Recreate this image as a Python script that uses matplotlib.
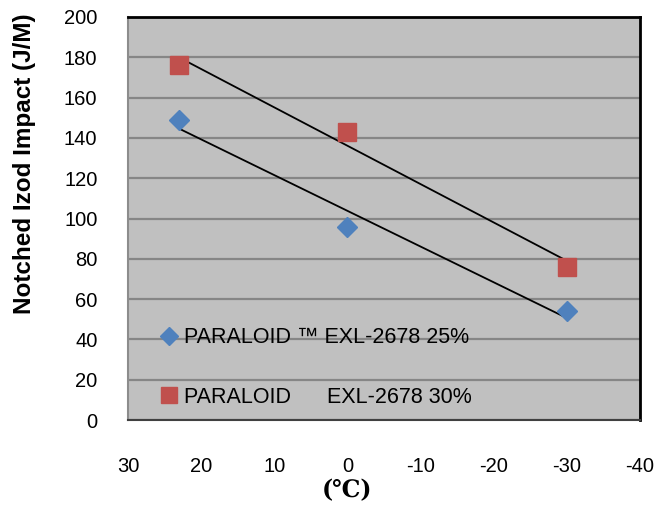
import numpy as np
import matplotlib
matplotlib.use("Agg")
import matplotlib.pyplot as plt

# Data
temps = [23, 0, -30]
impact_25 = [149, 96, 54]
impact_30 = [176, 143, 76]
label_25 = "PARALOID \u2122 EXL-2678 25%"
label_30 = "PARALOID      EXL-2678 30%"
x_ticks = [30, 20, 10, 0, -10, -20, -30, -40]
y_ticks = [0, 20, 40, 60, 80, 100, 120, 140, 160, 180, 200]

plt.rcParams['font.family'] = ['Liberation Sans', 'DejaVu Sans']
plt.rcParams['axes.unicode_minus'] = False

fig = plt.figure(figsize=(6.59, 5.12), dpi=100)
ax = fig.add_axes([128/659, 1-420/512, (640-128)/659, (420-17)/512])
ax.set_facecolor('#C0C0C0')

blue = '#4F81BD'
red = '#C0504D'

# trend lines (linear fits)
for ys in (impact_25, impact_30):
    p = np.polyfit(temps, ys, 1)
    xs = np.array([max(temps), min(temps)])
    ax.plot(xs, np.polyval(p, xs), color='black', lw=1.3, zorder=3)

ax.plot(temps, impact_25, linestyle='none', marker='D', ms=10.5, color=blue,
        mec=blue, label=label_25, zorder=4)
ax.plot(temps, impact_30, linestyle='none', marker='s', ms=13.5, color=red,
        mec=red, label=label_30, zorder=4)

ax.set_xlim(30, -40)
ax.set_ylim(0, 200)
ax.set_xticks(x_ticks)
ax.set_yticks(y_ticks)
ax.tick_params(axis='both', length=0, labelsize=14.5)
ax.tick_params(axis='x', pad=27)
ax.tick_params(axis='y', pad=22)
ax.yaxis.grid(True, color='#868686', lw=1.6)
ax.set_axisbelow(True)

for s in ('top', 'right'):
    ax.spines[s].set_color('black')
    ax.spines[s].set_linewidth(2)
ax.spines['left'].set_color('#8C8C8C')
ax.spines['left'].set_linewidth(1.5)
ax.spines['bottom'].set_color('#404040')
ax.spines['bottom'].set_linewidth(1.5)

ax.set_ylabel("Notched Izod Impact (J/M)", fontsize=17.5, fontweight='bold')
ax.yaxis.set_label_coords(-0.180, 0.635)
ax.set_xlabel("(\u2103)", fontsize=17, fontweight='bold', family=['DejaVu Serif'])
ax.xaxis.set_label_coords(30/70, -0.145)

leg = ax.legend(loc='lower left', bbox_to_anchor=(0.018, -0.018), frameon=False,
                fontsize=15.5, labelspacing=1.8, handletextpad=0.1, markerscale=0.85,
                handlelength=1.15)

fig.savefig('out.png', dpi=100)
